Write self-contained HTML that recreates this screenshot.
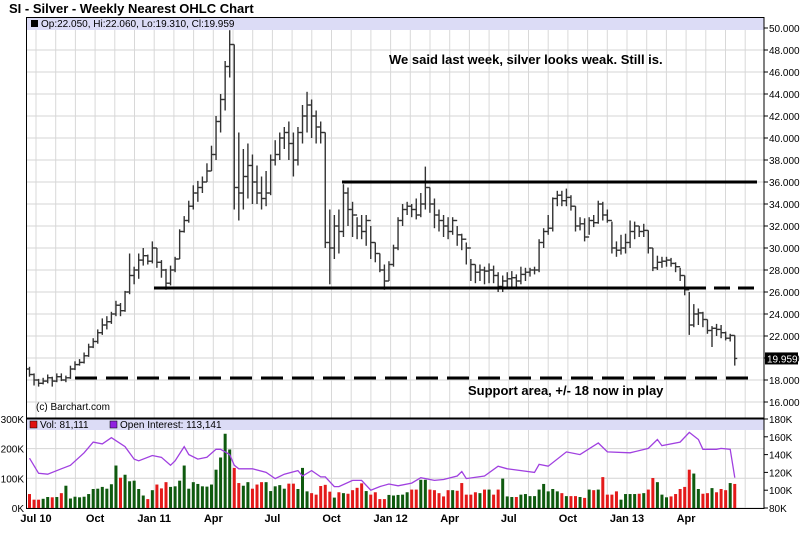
<!DOCTYPE html>
<html><head><meta charset="utf-8"><style>
body{margin:0;background:#fff;}
svg{display:block;font-family:"Liberation Sans",sans-serif;}
</style></head><body>
<svg id="chart" width="800" height="544" viewBox="0 0 800 544">
<text x="9" y="13" font-size="13" font-weight="bold" fill="#000">SI - Silver - Weekly Nearest OHLC Chart</text>
<g id="grid"></g>
<rect x="27" y="18" width="737" height="12" fill="#dcdcf6"/>
<rect x="27" y="419" width="737" height="11" fill="#dcdcf6"/>
<g id="marks"></g>
<g id="overlay">
<line x1="342" y1="182" x2="757" y2="182" stroke="#000" stroke-width="3"/>
<line x1="154" y1="288" x2="690" y2="288" stroke="#000" stroke-width="3"/>
<line x1="690" y1="288" x2="757" y2="288" stroke="#000" stroke-width="3" stroke-dasharray="16,8"/>
<line x1="75" y1="378" x2="757" y2="378" stroke="#000" stroke-width="3" stroke-dasharray="22,9"/>
<text x="389" y="64" font-size="13" font-weight="bold" fill="#000">We said last week, silver looks weak.  Still is.</text>
<text x="468" y="395" font-size="13" font-weight="bold" fill="#000">Support area, +/- 18 now in play</text>
<text x="36" y="410" font-size="10" fill="#000">(c) Barchart.com</text>
<rect x="31" y="20" width="7" height="7" fill="#000"/>
<text x="41" y="27" font-size="10" fill="#000">Op:22.050, Hi:22.060, Lo:19.310, Cl:19.959</text>
<rect x="30" y="421" width="7" height="7" fill="#e01010" stroke="#000" stroke-width="0.5"/>
<text x="40" y="428" font-size="10" fill="#000">Vol: 81,111</text>
<rect x="110" y="421" width="7" height="7" fill="#9020e0" stroke="#000" stroke-width="0.5"/>
<text x="120" y="428" font-size="10" fill="#000">Open Interest: 113,141</text>
</g>
<rect x="26.5" y="17.5" width="737.5" height="491" fill="none" stroke="#000" stroke-width="1"/>
<line x1="26" y1="418.5" x2="764" y2="418.5" stroke="#000" stroke-width="2"/>
<g id="axes"></g>
</svg>
<script>
const closes=[18.5,18.0,17.7,17.9,18.2,17.9,18.3,18.0,18.2,19.0,19.4,19.6,20.2,21.0,21.5,22.3,23.0,23.3,24.0,24.8,24.3,26.0,27.5,28.0,28.9,29.3,28.8,30.0,28.7,28.0,26.8,28.0,29.0,31.5,32.5,33.8,35.0,35.5,36.0,37.0,38.5,41.5,43.5,46.5,48.5,35.5,35.0,36.5,37.5,36.0,35.0,34.5,35.0,38.0,38.5,40.0,40.5,39.5,38.0,40.5,42.0,43.0,42.0,41.0,40.5,30.5,30.0,32.0,31.5,35.0,33.5,33.0,32.0,31.5,32.5,30.5,29.5,28.0,27.0,28.5,30.0,32.5,33.5,33.8,33.5,33.0,34.0,35.5,34.0,33.0,32.5,32.0,31.5,32.5,31.2,30.8,30.0,28.5,27.8,28.0,27.9,28.0,27.5,26.5,27.0,27.2,27.3,27.0,27.6,27.8,28.0,28.0,30.5,31.5,31.8,34.5,34.8,34.3,34.6,33.8,32.0,32.2,31.0,32.5,32.3,34.0,33.0,32.5,30.0,29.8,30.0,30.5,31.5,32.0,31.5,31.6,30.0,28.2,28.7,28.8,28.9,28.6,28.3,27.5,26.2,23.0,24.0,24.1,23.5,22.5,22.7,22.6,22.3,21.8,22.05,19.96];
const highs=[19.2,18.6,18.1,18.2,18.5,18.3,18.6,18.6,18.4,19.3,19.7,19.9,20.5,21.3,21.8,22.6,23.6,23.8,24.2,25.2,25.0,26.1,29.5,28.3,29.5,30.0,29.4,30.6,30.0,28.9,28.1,28.4,29.2,31.7,32.9,34.3,35.7,36.1,36.5,37.7,39.3,42.0,44.0,47.0,49.8,48.5,40.5,39.0,39.5,38.5,37.5,36.5,37.0,38.5,39.8,40.5,41.0,41.5,40.5,41.0,43.0,44.2,43.5,42.5,41.5,40.5,33.5,33.0,33.5,35.8,35.5,34.2,32.8,33.0,33.0,32.0,30.5,29.5,28.5,28.8,30.3,32.8,34.0,34.2,34.0,34.5,35.0,37.4,35.5,34.5,33.5,33.0,32.8,32.8,32.0,31.3,30.5,29.0,28.5,28.5,28.3,28.6,28.4,27.8,27.5,27.8,27.9,27.6,28.3,28.2,28.2,28.3,30.8,31.8,33.0,34.6,35.2,35.2,35.4,34.8,33.8,32.8,32.7,32.8,33.0,34.3,34.2,33.5,32.4,30.6,31.2,31.3,32.5,32.4,32.0,32.2,31.6,30.0,29.3,29.2,29.2,29.1,28.7,28.2,27.5,26.0,24.9,24.5,24.2,23.5,22.9,23.1,23.0,22.4,22.2,22.06];
const lows=[18.3,17.5,17.4,17.6,17.7,17.4,17.8,17.9,17.8,18.1,18.9,19.3,19.5,20.1,20.9,21.3,22.1,22.6,23.1,23.8,23.8,24.2,25.8,26.7,27.2,28.4,28.5,28.6,28.2,27.3,26.2,26.6,27.8,29.0,31.4,32.3,33.5,34.2,35.0,36.0,37.0,38.0,40.5,42.5,45.5,33.5,32.5,33.5,34.5,34.0,34.0,33.5,33.8,34.8,37.5,38.0,39.0,38.0,36.5,37.5,39.5,40.5,40.0,39.5,39.5,30.0,26.7,29.0,29.5,31.0,32.0,31.0,30.8,30.8,30.2,29.0,28.7,27.8,26.2,27.0,28.3,29.8,32.0,33.0,32.8,32.6,32.8,33.5,33.2,31.8,31.5,31.0,30.8,31.2,30.2,29.8,28.5,27.0,26.8,27.0,26.7,26.8,26.8,26.0,26.0,26.4,26.5,26.3,26.7,27.0,27.4,27.6,27.8,30.0,31.2,31.5,33.8,33.8,33.8,33.4,31.5,31.6,30.6,31.2,31.9,32.2,32.5,32.3,29.5,29.2,29.4,29.5,30.0,30.8,31.0,31.0,29.5,27.9,28.0,28.2,28.3,28.3,27.8,27.0,25.7,22.1,22.8,23.0,22.8,22.2,21.0,22.0,21.8,21.6,21.5,19.31];
const firstOpen=19.0;
const volumes=[47,28,28,31,37,36,37,50,75,32,38,36,38,47,64,65,71,65,80,143,102,112,90,92,64,42,30,60,79,66,87,71,73,92,143,65,87,81,73,72,79,129,170,250,197,135,84,75,87,65,79,87,87,57,73,77,65,82,82,64,135,56,50,45,74,78,55,35,53,50,48,60,68,83,57,45,53,30,30,44,42,44,45,53,62,62,95,95,62,60,50,39,60,60,58,84,45,45,53,50,62,62,45,62,99,39,37,37,45,47,40,40,62,81,56,64,56,50,40,40,40,37,34,62,60,62,104,45,45,56,28,47,47,47,48,50,62,101,87,45,36,39,47,64,71,129,116,64,48,50,67,53,64,60,84,81];
const oiWeeks=[0,2,4,7,9,12,14,16,18,21,23,24,27,29,31,32,34,35,37,39,41,42,44,45,46,49,52,54,56,59,60,62,64,65,67,68,71,73,75,77,79,81,84,86,89,91,94,95,96,100,103,105,111,112,114,118,121,125,127,132,136,138,139,143,145,147,148,151,152,154,155];
const oiValues=[136,119,118,124,128,142,154,152,159,149,135,133,139,137,128,133,149,140,135,137,146,146,140,128,124,124,120,113,118,122,116,122,115,115,104,104,111,111,100,104,107,105,108,114,111,112,116,121,113,116,127,124,120,129,127,143,140,153,143,142,147,157,150,154,165,157,146,146,147,146,114];
const priceTicks=[50,48,46,44,42,40,38,36,34,32,30,28,26,24,22,20,18,16];
const volTicks=[0,100,200,300];
const oiTicks=[80,100,120,140,160,180];
const monthLabels=["Jul 10","Oct","Jan 11","Apr","Jul","Oct","Jan 12","Apr","Jul","Oct","Jan 13","Apr"];
const monthLabelIdx=[0,3,6,9,12,15,18,21,24,27,30,33];

const NS="http://www.w3.org/2000/svg";
const xW=i=>29.5+i*4.55;
const yP=p=>28+(50-p)*11;
const yV=v=>508-v*0.297;
const yOI=v=>508-(v-80)*0.89;
const xM=m=>36+m*19.7;
function mk(tag,attrs,parent){const e=document.createElementNS(NS,tag);for(const k in attrs)e.setAttribute(k,attrs[k]);parent.appendChild(e);return e;}
const grid=document.getElementById('grid'),marks=document.getElementById('marks'),axes=document.getElementById('axes');

// horizontal price grid
priceTicks.forEach(p=>{
 const l=mk('line',{x1:27,x2:764,y1:yP(p),y2:yP(p),stroke:'#d4d4d4','stroke-width':1},grid);
 
 
 const t=mk('line',{x1:764,x2:768,y1:yP(p),y2:yP(p),stroke:'#000'},axes);
 
 
 const tx=mk('text',{x:769,y:yP(p)+4,'font-size':10,fill:'#000'},axes);
 tx.textContent=p.toFixed(3);
 
 
});
// volume grid
volTicks.forEach(v=>{
 const l=mk('line',{x1:27,x2:764,y1:yV(v),y2:yV(v),stroke:'#d4d4d4'},grid);
 
 
 const tx=mk('text',{x:24,y:yV(v)+4,'font-size':10,fill:'#000','text-anchor':'end'},axes);
 tx.textContent=v+'K';
 
 
});
oiTicks.forEach(v=>{
 const t=mk('line',{x1:764,x2:768,y1:yOI(v),y2:yOI(v),stroke:'#000'},axes);
 
 
 const tx=mk('text',{x:769,y:yOI(v)+4,'font-size':10,fill:'#000'},axes);
 tx.textContent=v+'K';
 
 
});
// monthly vertical grid
for(let m=0;m<37;m++){
 const x=xM(m); if(x>762)break;
 const l=mk('line',{x1:x,x2:x,y1:30,y2:508,stroke:'#d8d8d8'},grid);
 
 
}
monthLabels.forEach((s,k)=>{
 const tx=mk('text',{x:xM(monthLabelIdx[k]),y:522,'font-size':11,'font-weight':'bold',fill:'#000','text-anchor':'middle'},axes);
 tx.textContent=s;
 
 
});
// volume bars
volumes.forEach((v,i)=>{
 const prev=i===0?firstOpen:closes[i-1];
 const up=closes[i]>=prev;
 const r=mk('rect',{x:xW(i)-1.5,y:yV(v),width:3,height:508-yV(v),fill:up?'#0f5a0f':'#e41a1a'},marks);
 
 
});
// OI line
let d='';
oiWeeks.forEach((w,k)=>{d+=(k?'L':'M')+xW(w).toFixed(1)+','+yOI(oiValues[k]).toFixed(1);});
const oi=mk('path',{d:d,fill:'none',stroke:'#a040e0','stroke-width':1.3},marks);


// OHLC bars
closes.forEach((c,i)=>{
 const o=i===0?firstOpen:closes[i-1];
 const x=xW(i);
 const g=mk('g',{stroke:'#333','stroke-width':1.4},marks);
 
 
 mk('line',{x1:x,x2:x,y1:yP(highs[i]),y2:yP(lows[i])},g);
 mk('line',{x1:x-2.5,x2:x,y1:yP(o),y2:yP(o)},g);
 mk('line',{x1:x,x2:x+2.5,y1:yP(c),y2:yP(c)},g);
});
// last price box
const lp=closes[closes.length-1];
const box=mk('rect',{x:765,y:yP(lp)-6,width:33,height:12,fill:'#000'},axes);


const lt=mk('text',{x:767,y:yP(lp)+4,'font-size':10,fill:'#fff'},axes);
lt.textContent='19.959';


</script>
</body></html>
